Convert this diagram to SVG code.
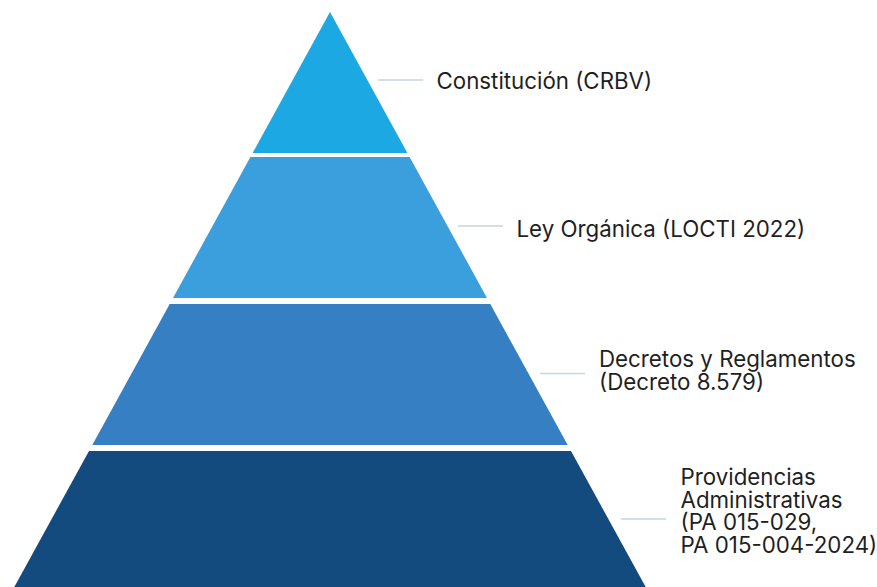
<svg xmlns="http://www.w3.org/2000/svg" width="877" height="587" viewBox="0 0 877 587">
  <style>
    .label { font-family: Inter, Roboto, "Liberation Sans", sans-serif; font-size: 22.3px; fill: #1f1f1f; }
    .leader { stroke: #c9d5e0; stroke-width: 1.6; fill: none; }
  </style>
  <rect width="877" height="587" fill="#ffffff"/>

  <!-- Pyramid tiers, top to bottom -->
  <g id="tier-constitucion">
    <polygon points="330,12 407.4,153 252.6,153" fill="#1ba8e3"/>
  </g>
  <g id="tier-ley-organica">
    <polygon points="250.4,157 409.6,157 487,298 173,298" fill="#3a9fdc"/>
  </g>
  <g id="tier-decretos">
    <polygon points="169.7,304 490.3,304 567.7,445 92.3,445" fill="#357fc2"/>
  </g>
  <g id="tier-providencias">
    <polygon points="89,451 571,451 645.7,587 14.3,587" fill="#144b7e"/>
  </g>

  <!-- Leader lines -->
  <g id="connectors">
    <line class="leader" x1="378" y1="80" x2="423" y2="80"/>
    <line class="leader" x1="458" y1="226" x2="503" y2="226"/>
    <line class="leader" x1="540" y1="373.5" x2="585" y2="373.5"/>
    <line class="leader" x1="621" y1="519" x2="666" y2="519"/>
  </g>

  <!-- Labels -->
  <g id="label-constitucion">
    <text class="label" x="436.5" y="88.5">Constitución (CRBV)</text>
  </g>
  <g id="label-ley-organica">
    <text class="label" x="516.5" y="236.5">Ley Orgánica (LOCTI 2022)</text>
  </g>
  <g id="label-decretos">
    <text class="label" x="599" y="367">Decretos y Reglamentos</text>
    <text class="label" x="599" y="389.5">(Decreto 8.579)</text>
  </g>
  <g id="label-providencias">
    <text class="label" x="680.5" y="485">Providencias</text>
    <text class="label" x="680.5" y="507.5">Administrativas</text>
    <text class="label" x="680.5" y="530">(PA 015-029,</text>
    <text class="label" x="680.5" y="552.5">PA 015-004-2024)</text>
  </g>
</svg>
